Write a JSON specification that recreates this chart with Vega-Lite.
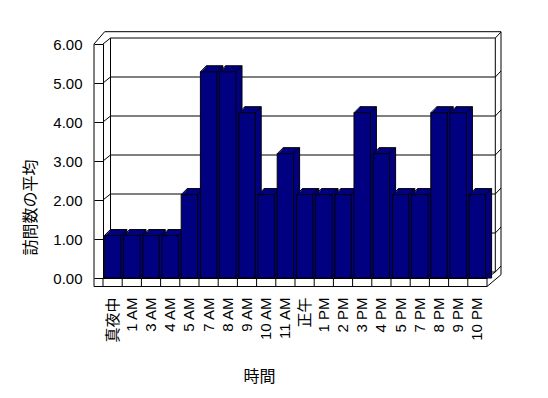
{
  "$schema": "https://vega.github.io/schema/vega-lite/v6.json",
  "width": 384,
  "height": 234,
  "autosize": {"type": "none"},
  "padding": {"left": 103, "top": 44, "right": 61, "bottom": 120},
  "background": "white",
  "resolve": {"axis": {"x": "independent", "y": "independent"}},
  "config": {
    "view": {"stroke": null},
    "axis": {
      "labelFont": "Liberation Sans, Noto Sans CJK JP",
      "titleFont": "Noto Sans CJK JP",
      "labelColor": "black",
      "titleColor": "black",
      "titleFontWeight": "normal"
    },
    "rule": {"stroke": "black", "strokeWidth": 1}
  },
  "datasets": {
    "hours": [
      {"hour": "真夜中", "visits": 1.05},
      {"hour": "1 AM", "visits": 1.05},
      {"hour": "3 AM", "visits": 1.05},
      {"hour": "4 AM", "visits": 1.05},
      {"hour": "5 AM", "visits": 2.1},
      {"hour": "7 AM", "visits": 5.25},
      {"hour": "8 AM", "visits": 5.25},
      {"hour": "9 AM", "visits": 4.2},
      {"hour": "10 AM", "visits": 2.1},
      {"hour": "11 AM", "visits": 3.15},
      {"hour": "正午", "visits": 2.1},
      {"hour": "1 PM", "visits": 2.1},
      {"hour": "2 PM", "visits": 2.1},
      {"hour": "3 PM", "visits": 4.2},
      {"hour": "4 PM", "visits": 3.15},
      {"hour": "5 PM", "visits": 2.1},
      {"hour": "7 PM", "visits": 2.1},
      {"hour": "8 PM", "visits": 4.2},
      {"hour": "9 PM", "visits": 4.2},
      {"hour": "10 PM", "visits": 2.1}
    ],
    "levels": [{"v": 0}, {"v": 1}, {"v": 2}, {"v": 3}, {"v": 4}, {"v": 5}, {"v": 6}],
    "one": [{}]
  },
  "layer": [
    {
      "data": {"name": "levels"},
      "mark": {"type": "rule", "xOffset": -2.1, "x2Offset": 17.9, "yOffset": -6},
      "encoding": {
        "x": {"datum": "真夜中", "type": "nominal", "axis": null},
        "x2": {"datum": "10 PM"},
        "y": {"field": "v", "type": "quantitative", "axis": null}
      }
    },
    {
      "data": {"name": "levels"},
      "mark": {"type": "rule", "xOffset": -9.6, "x2Offset": -2.1, "y2Offset": -6},
      "encoding": {
        "x": {"datum": "真夜中", "type": "nominal", "axis": null},
        "x2": {"datum": "真夜中"},
        "y": {"field": "v", "type": "quantitative", "axis": null},
        "y2": {"field": "v"}
      }
    },
    {
      "data": {"name": "levels"},
      "mark": {"type": "rule", "xOffset": 17.9, "x2Offset": 23.6, "yOffset": -6, "y2Offset": -12},
      "encoding": {
        "x": {"datum": "10 PM", "type": "nominal", "axis": null},
        "x2": {"datum": "10 PM"},
        "y": {"field": "v", "type": "quantitative", "axis": null},
        "y2": {"field": "v"}
      }
    },
    {
      "data": {"name": "one"},
      "mark": {"type": "rule", "xOffset": -7.9, "x2Offset": 23.6, "yOffset": -12.3},
      "encoding": {
        "x": {"datum": "真夜中", "type": "nominal", "axis": null},
        "x2": {"datum": "10 PM"},
        "y": {"datum": 6, "type": "quantitative", "axis": null}
      }
    },
    {
      "data": {"name": "one"},
      "mark": {"type": "rule", "xOffset": 23.6, "yOffset": -12.3, "y2Offset": -3.3},
      "encoding": {
        "x": {"datum": "10 PM", "type": "nominal", "axis": null},
        "y": {"datum": 6, "type": "quantitative", "axis": null},
        "y2": {"datum": 0}
      }
    },
    {
      "data": {"name": "one"},
      "mark": {"type": "rule", "xOffset": 17.9, "yOffset": -6, "y2Offset": -6},
      "encoding": {
        "x": {"datum": "10 PM", "type": "nominal", "axis": null},
        "y": {"datum": 6, "type": "quantitative", "axis": null},
        "y2": {"datum": 0}
      }
    },
    {
      "data": {"name": "one"},
      "mark": {"type": "rule", "xOffset": -2.1, "yOffset": -6, "y2Offset": -6},
      "encoding": {
        "x": {"datum": "真夜中", "type": "nominal", "axis": null},
        "y": {"datum": 6, "type": "quantitative", "axis": null},
        "y2": {"datum": 0}
      }
    },
    {
      "data": {"name": "one"},
      "mark": {"type": "rule", "xOffset": -18.6, "y2Offset": 8.5},
      "encoding": {
        "x": {"datum": "真夜中", "type": "nominal", "axis": null},
        "y": {"datum": 6, "type": "quantitative", "axis": null},
        "y2": {"datum": 0}
      }
    },
    {
      "data": {"name": "one"},
      "mark": {"type": "rule", "xOffset": -18.6, "x2Offset": -7.9, "y2Offset": -12.3},
      "encoding": {
        "x": {"datum": "真夜中", "type": "nominal", "axis": null},
        "x2": {"datum": "真夜中"},
        "y": {"datum": 6, "type": "quantitative", "axis": null},
        "y2": {"datum": 6}
      }
    },
    {
      "data": {"name": "one"},
      "mark": {"type": "rule", "xOffset": -18.6, "x2Offset": 9.6, "yOffset": 8.5},
      "encoding": {
        "x": {"datum": "真夜中", "type": "nominal", "axis": null},
        "x2": {"datum": "10 PM"},
        "y": {"datum": 0, "type": "quantitative", "axis": null}
      }
    },
    {
      "data": {"name": "one"},
      "mark": {"type": "rule", "xOffset": 9.6, "y2Offset": 8.5},
      "encoding": {
        "x": {"datum": "10 PM", "type": "nominal", "axis": null},
        "y": {"datum": 0, "type": "quantitative", "axis": null},
        "y2": {"datum": 0}
      }
    },
    {
      "data": {"name": "one"},
      "mark": {"type": "rule", "xOffset": 9.6, "x2Offset": 17.9, "y2Offset": -6},
      "encoding": {
        "x": {"datum": "10 PM", "type": "nominal", "axis": null},
        "x2": {"datum": "10 PM"},
        "y": {"datum": 0, "type": "quantitative", "axis": null},
        "y2": {"datum": 0}
      }
    },
    {
      "data": {"name": "one"},
      "mark": {"type": "rule", "xOffset": 9.6, "x2Offset": 23.6, "yOffset": 8.5, "y2Offset": -3.3},
      "encoding": {
        "x": {"datum": "10 PM", "type": "nominal", "axis": null},
        "x2": {"datum": "10 PM"},
        "y": {"datum": 0, "type": "quantitative", "axis": null},
        "y2": {"datum": 0}
      }
    },
    {
      "data": {"name": "hours"},
      "mark": {"type": "rule", "xOffset": -9.6, "y2Offset": 8.5},
      "encoding": {
        "x": {"field": "hour", "type": "nominal", "axis": null},
        "y": {"datum": 0, "type": "quantitative", "axis": null},
        "y2": {"datum": 0}
      }
    },
    {
      "data": {"name": "hours"},
      "mark": {"type": "bar", "width": {"band": 0.855}, "fill": "#000080", "stroke": "black", "strokeWidth": 1, "xOffset": 6, "yOffset": -7.5, "y2Offset": -7.5},
      "encoding": {
        "x": {"field": "hour", "type": "nominal", "axis": null},
        "y": {"field": "visits", "type": "quantitative", "stack": null, "axis": null}
      }
    },
    {
      "data": {"name": "hours"},
      "mark": {"type": "bar", "width": {"band": 0.855}, "fill": "#000080", "strokeWidth": 0, "xOffset": 5, "yOffset": -6.5, "y2Offset": -6.5},
      "encoding": {
        "x": {"field": "hour", "type": "nominal", "axis": null},
        "y": {"field": "visits", "type": "quantitative", "stack": null, "axis": null}
      }
    },
    {
      "data": {"name": "hours"},
      "mark": {"type": "bar", "width": {"band": 0.855}, "fill": "#000080", "strokeWidth": 0, "xOffset": 4, "yOffset": -5.5, "y2Offset": -5.5},
      "encoding": {
        "x": {"field": "hour", "type": "nominal", "axis": null},
        "y": {"field": "visits", "type": "quantitative", "stack": null, "axis": null}
      }
    },
    {
      "data": {"name": "hours"},
      "mark": {"type": "bar", "width": {"band": 0.855}, "fill": "#000080", "strokeWidth": 0, "xOffset": 3, "yOffset": -4.5, "y2Offset": -4.5},
      "encoding": {
        "x": {"field": "hour", "type": "nominal", "axis": null},
        "y": {"field": "visits", "type": "quantitative", "stack": null, "axis": null}
      }
    },
    {
      "data": {"name": "hours"},
      "mark": {"type": "bar", "width": {"band": 0.855}, "fill": "#000080", "strokeWidth": 0, "xOffset": 2, "yOffset": -3.5, "y2Offset": -3.5},
      "encoding": {
        "x": {"field": "hour", "type": "nominal", "axis": null},
        "y": {"field": "visits", "type": "quantitative", "stack": null, "axis": null}
      }
    },
    {
      "data": {"name": "hours"},
      "mark": {"type": "bar", "width": {"band": 0.855}, "fill": "#000080", "strokeWidth": 0, "xOffset": 1, "yOffset": -2.5, "y2Offset": -2.5},
      "encoding": {
        "x": {"field": "hour", "type": "nominal", "axis": null},
        "y": {"field": "visits", "type": "quantitative", "stack": null, "axis": null}
      }
    },
    {
      "data": {"name": "hours"},
      "mark": {"type": "rule", "xOffset": -8.2, "x2Offset": -2.2, "yOffset": -1.5, "y2Offset": -7.5},
      "encoding": {
        "x": {"field": "hour", "type": "nominal", "axis": null},
        "x2": {"field": "hour"},
        "y": {"field": "visits", "type": "quantitative", "axis": null},
        "y2": {"field": "visits"}
      }
    },
    {
      "data": {"name": "hours"},
      "mark": {"type": "rule", "xOffset": 8.2, "x2Offset": 14.2, "yOffset": -1.5, "y2Offset": -7.5},
      "encoding": {
        "x": {"field": "hour", "type": "nominal", "axis": null},
        "x2": {"field": "hour"},
        "y": {"field": "visits", "type": "quantitative", "axis": null},
        "y2": {"field": "visits"}
      }
    },
    {
      "data": {"name": "hours"},
      "mark": {"type": "rule", "xOffset": 8.2, "x2Offset": 14.2, "yOffset": -1.5, "y2Offset": -7.5},
      "encoding": {
        "x": {"field": "hour", "type": "nominal", "axis": null},
        "x2": {"field": "hour"},
        "y": {"datum": 0, "type": "quantitative", "axis": null},
        "y2": {"datum": 0}
      }
    },
    {
      "data": {"name": "hours"},
      "mark": {"type": "bar", "width": {"band": 0.855}, "fill": "#000080", "stroke": "black", "strokeWidth": 1, "yOffset": -1.5, "y2Offset": -1.5},
      "encoding": {
        "x": {
          "field": "hour",
          "type": "nominal",
          "sort": null,
          "scale": {
            "domain": ["真夜中", "1 AM", "3 AM", "4 AM", "5 AM", "7 AM", "8 AM", "9 AM", "10 AM", "11 AM", "正午", "1 PM", "2 PM", "3 PM", "4 PM", "5 PM", "7 PM", "8 PM", "9 PM", "10 PM"],
            "paddingInner": 0,
            "paddingOuter": 0
          },
          "axis": {
            "title": "時間",
            "titleFontSize": 16,
            "titleX": 156,
            "titleY": 98,
            "titleBaseline": "middle",
            "titleAlign": "center",
            "domain": true,
            "domainColor": "black",
            "domainWidth": 1,
            "ticks": false,
            "tickSize": 0,
            "labelAngle": -90,
            "labelFontSize": 15,
            "labelPadding": 19,
            "labelOverlap": false
          }
        },
        "y": {
          "field": "visits",
          "type": "quantitative",
          "stack": null,
          "scale": {"domain": [0, 6], "nice": false, "zero": true},
          "axis": {
            "title": "訪問数の平均",
            "titleFontSize": 16,
            "titleX": -73,
            "titleY": 163,
            "titleBaseline": "middle",
            "titleAlign": "center",
            "titleAngle": -90,
            "values": [0, 1, 2, 3, 4, 5, 6],
            "format": ".2f",
            "grid": false,
            "domain": true,
            "domainColor": "black",
            "ticks": true,
            "tickSize": 9,
            "tickColor": "black",
            "labelFontSize": 15,
            "labelPadding": 12,
            "labelFlush": false
          }
        }
      }
    }
  ]
}
